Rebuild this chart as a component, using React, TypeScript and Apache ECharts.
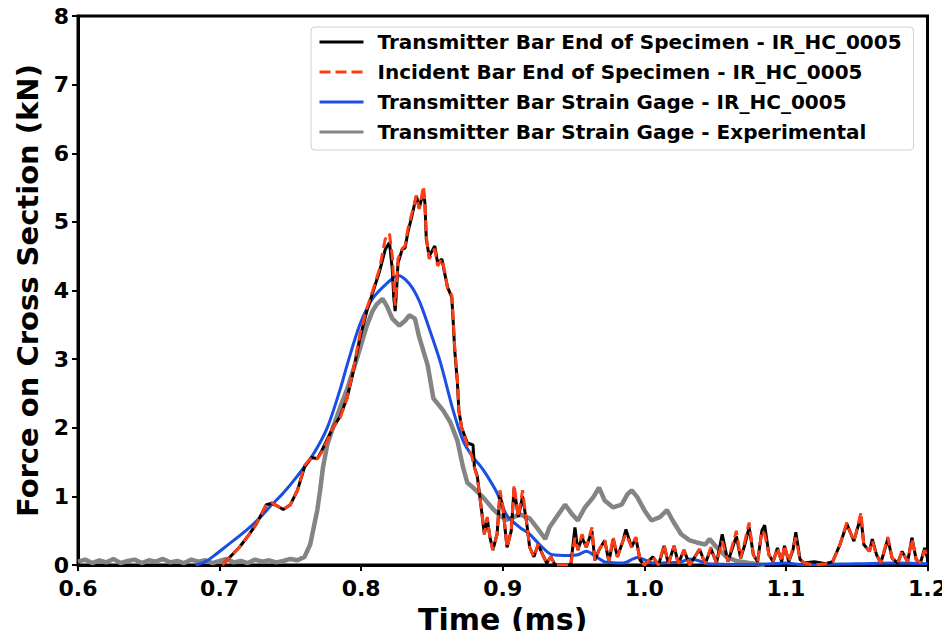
import React, { useEffect, useRef } from "react";
import * as echarts from "echarts";

const seriesNames = [
  "Transmitter Bar End of Specimen - IR_HC_0005",
  "Incident Bar End of Specimen - IR_HC_0005",
  "Transmitter Bar Strain Gage - IR_HC_0005",
  "Transmitter Bar Strain Gage - Experimental",
];

const xTicks = [0.6, 0.7, 0.8, 0.9, 1.0, 1.1, 1.2];
const yTicks = [0, 1, 2, 3, 4, 5, 6, 7, 8];

// Incident bar end (red dashed)
const redT = [
  0.702, 0.706, 0.714, 0.72, 0.726, 0.733, 0.737, 0.74, 0.745, 0.75, 0.755, 0.76, 0.765, 0.769, 0.772, 0.776, 0.78, 0.785, 0.79, 0.794,
  0.799, 0.804, 0.808, 0.813, 0.817, 0.82, 0.822, 0.823, 0.824, 0.825, 0.826, 0.829, 0.831, 0.833, 0.836, 0.839, 0.841, 0.844, 0.845, 0.846,
  0.848, 0.852, 0.854, 0.857, 0.859, 0.861, 0.864, 0.865, 0.866, 0.868, 0.869, 0.871, 0.875, 0.878, 0.88, 0.882, 0.885, 0.887, 0.889, 0.891,
  0.893, 0.896, 0.898, 0.9, 0.903, 0.906, 0.908, 0.911, 0.914, 0.917, 0.919, 0.922, 0.925, 0.928, 0.931, 0.934, 0.937, 0.948, 0.951, 0.953,
  0.956, 0.959, 0.963, 0.965, 0.968, 0.972, 0.975, 0.978, 0.981, 0.985, 0.987, 0.991, 0.994, 0.997, 1.0, 1.006, 1.01, 1.014, 1.017, 1.021,
  1.024, 1.028, 1.032, 1.039, 1.043, 1.047, 1.051, 1.055, 1.059, 1.065, 1.068, 1.071, 1.074, 1.077, 1.08, 1.083, 1.085, 1.088, 1.091, 1.094,
  1.097, 1.099, 1.102, 1.105, 1.107, 1.11, 1.113, 1.12, 1.128, 1.133, 1.138, 1.143, 1.146, 1.148, 1.15, 1.153, 1.155, 1.159, 1.161, 1.164,
  1.167, 1.172, 1.175, 1.179, 1.182, 1.186, 1.189, 1.192, 1.195, 1.198, 1.2,
];
const redF = [
  0.0, 0.09, 0.26, 0.42, 0.6, 0.88, 0.91, 0.87, 0.81, 0.88, 1.09, 1.45, 1.57, 1.55, 1.64, 1.81, 2.0, 2.14, 2.43, 2.8,
  3.35, 3.74, 3.99, 4.32, 4.75, 4.83, 4.5, 4.1, 3.78, 4.03, 4.46, 4.61, 4.65, 4.9, 5.14, 5.38, 5.19, 5.52, 5.29, 4.8,
  4.46, 4.61, 4.36, 4.46, 4.28, 4.03, 3.93, 3.59, 3.2, 2.7, 2.25, 2.0, 1.75, 1.6, 1.42, 1.28, 0.8, 0.45, 0.7, 0.4,
  0.22, 0.45, 1.09, 0.88, 0.26, 0.5, 1.17, 0.7, 1.09, 0.6, 0.26, 0.12, 0.3, 0.16, 0.03, 0.12, 0.0, 0.0, 0.4, 0.22,
  0.45, 0.26, 0.55, 0.07, 0.22, 0.36, 0.05, 0.41, 0.12, 0.36, 0.45, 0.26, 0.41, 0.07, 0.0, 0.12, 0.0, 0.3, 0.02, 0.28,
  0.02, 0.22, 0.0, 0.23, 0.02, 0.26, 0.03, 0.35, 0.05, 0.5, 0.1, 0.35, 0.62, 0.15, 0.05, 0.5, 0.45, 0.15, 0.05, 0.25,
  0.05, 0.29, 0.05, 0.25, 0.4, 0.08, 0.03, 0.0, 0.02, 0.05, 0.29, 0.62, 0.45, 0.35, 0.5, 0.77, 0.3, 0.2, 0.35, 0.15,
  0.03, 0.41, 0.1, 0.03, 0.2, 0.05, 0.38, 0.08, 0.03, 0.22, 0.1,
];

// Transmitter bar end (black solid)
const blackT = [
  0.702, 0.706, 0.714, 0.72, 0.726, 0.733, 0.737, 0.74, 0.745, 0.75, 0.755, 0.76, 0.765, 0.769, 0.772, 0.776, 0.78, 0.785, 0.79, 0.794,
  0.799, 0.804, 0.808, 0.813, 0.817, 0.82, 0.822, 0.823, 0.824, 0.825, 0.826, 0.829, 0.831, 0.833, 0.836, 0.839, 0.841, 0.844, 0.845, 0.846,
  0.848, 0.852, 0.854, 0.857, 0.859, 0.861, 0.864, 0.865, 0.866, 0.868, 0.869, 0.871, 0.875, 0.879, 0.88, 0.882, 0.885, 0.887, 0.889, 0.891,
  0.893, 0.896, 0.898, 0.9, 0.903, 0.906, 0.908, 0.911, 0.914, 0.917, 0.919, 0.922, 0.925, 0.928, 0.931, 0.934, 0.937, 0.948, 0.951, 0.953,
  0.956, 0.959, 0.963, 0.965, 0.968, 0.972, 0.975, 0.978, 0.981, 0.985, 0.987, 0.991, 0.994, 0.997, 1.0, 1.006, 1.01, 1.014, 1.017, 1.021,
  1.024, 1.028, 1.032, 1.039, 1.043, 1.047, 1.051, 1.055, 1.059, 1.065, 1.068, 1.071, 1.074, 1.077, 1.08, 1.083, 1.085, 1.088, 1.091, 1.094,
  1.097, 1.099, 1.102, 1.105, 1.107, 1.11, 1.113, 1.12, 1.128, 1.133, 1.138, 1.143, 1.146, 1.148, 1.15, 1.153, 1.155, 1.159, 1.161, 1.164,
  1.167, 1.172, 1.175, 1.179, 1.182, 1.186, 1.189, 1.192, 1.195, 1.198, 1.2,
];
const blackF = [
  0.0, 0.09, 0.26, 0.42, 0.6, 0.88, 0.9, 0.87, 0.81, 0.88, 1.09, 1.43, 1.57, 1.55, 1.66, 1.83, 2.0, 2.16, 2.43, 2.78,
  3.3, 3.7, 3.96, 4.28, 4.6, 4.7, 4.3, 3.9, 3.7, 4.0, 4.4, 4.6, 4.62, 4.85, 5.1, 5.38, 5.2, 5.45, 5.28, 4.75,
  4.5, 4.65, 4.4, 4.46, 4.25, 4.05, 3.9, 3.55, 3.15, 2.65, 2.25, 2.0, 1.78, 1.75, 1.42, 1.3, 0.8, 0.45, 0.68, 0.4,
  0.22, 0.45, 1.02, 0.85, 0.26, 0.5, 1.12, 0.7, 1.0, 0.6, 0.26, 0.12, 0.3, 0.16, 0.03, 0.12, 0.0, 0.0, 0.55, 0.22,
  0.4, 0.26, 0.5, 0.07, 0.22, 0.36, 0.05, 0.38, 0.12, 0.36, 0.52, 0.26, 0.4, 0.07, 0.0, 0.12, 0.0, 0.28, 0.02, 0.28,
  0.02, 0.22, 0.0, 0.23, 0.02, 0.24, 0.03, 0.45, 0.05, 0.42, 0.1, 0.3, 0.55, 0.15, 0.05, 0.5, 0.58, 0.15, 0.05, 0.25,
  0.05, 0.28, 0.05, 0.22, 0.48, 0.08, 0.03, 0.05, 0.02, 0.05, 0.29, 0.6, 0.45, 0.35, 0.5, 0.7, 0.3, 0.2, 0.38, 0.15,
  0.03, 0.38, 0.1, 0.03, 0.2, 0.05, 0.4, 0.08, 0.03, 0.25, 0.1,
];

// Transmitter bar strain gage model (blue)
const blueT = [
  0.683, 0.69, 0.695, 0.705, 0.719, 0.728, 0.736, 0.745, 0.755, 0.766, 0.776, 0.785, 0.79, 0.799, 0.808, 0.818, 0.826, 0.834, 0.841, 0.848,
  0.856, 0.865, 0.872, 0.879, 0.884, 0.889, 0.896, 0.903, 0.912, 0.919, 0.926, 0.935, 0.947, 0.953, 0.959, 0.966, 0.973, 0.985, 0.992, 0.995,
  1.002, 1.006, 1.025, 1.032, 1.039, 1.044, 1.08, 1.1, 1.11, 1.15, 1.18, 1.2,
];
const blueF = [
  0.0, 0.05, 0.12, 0.28, 0.51, 0.68, 0.86, 1.05, 1.3, 1.61, 2.0, 2.55, 2.91, 3.5, 3.88, 4.1, 4.22, 4.1, 3.85, 3.45,
  2.95, 2.25, 1.81, 1.57, 1.45, 1.3, 1.05, 0.72, 0.55, 0.45, 0.3, 0.15, 0.14, 0.15, 0.2, 0.12, 0.04, 0.03, 0.09, 0.11,
  0.06, 0.03, 0.04, 0.09, 0.06, 0.02, 0.01, 0.03, 0.01, 0.02, 0.03, 0.02,
];

// Transmitter bar strain gage experimental (gray)
const grayT = [
  0.6, 0.605, 0.61, 0.615, 0.62, 0.625, 0.63, 0.635, 0.64, 0.645, 0.65, 0.655, 0.66, 0.665, 0.67, 0.675, 0.68, 0.685, 0.69, 0.695,
  0.7, 0.705, 0.71, 0.715, 0.72, 0.725, 0.73, 0.735, 0.74, 0.745, 0.75, 0.755, 0.76, 0.764, 0.766, 0.769, 0.771, 0.773, 0.776, 0.78,
  0.785, 0.79, 0.797, 0.804, 0.808, 0.811, 0.815, 0.818, 0.822, 0.827, 0.831, 0.834, 0.838, 0.841, 0.847, 0.851, 0.858, 0.863, 0.868, 0.872,
  0.875, 0.879, 0.886, 0.893, 0.898, 0.903, 0.908, 0.912, 0.919, 0.924, 0.93, 0.933, 0.938, 0.944, 0.949, 0.953, 0.958, 0.964, 0.968, 0.972,
  0.978, 0.984, 0.988, 0.991, 0.995, 1.0, 1.005, 1.011, 1.016, 1.02, 1.026, 1.032, 1.037, 1.043, 1.046, 1.051, 1.058, 1.065, 1.074, 1.085,
];
const grayF = [
  0.05, 0.08, 0.03, 0.07, 0.04, 0.09, 0.03, 0.06, 0.08, 0.03, 0.07, 0.05, 0.09, 0.04, 0.06, 0.03, 0.08, 0.05, 0.07, 0.03,
  0.06, 0.09, 0.04, 0.06, 0.03, 0.08, 0.05, 0.07, 0.04, 0.06, 0.09, 0.07, 0.12, 0.3, 0.5, 0.8, 1.09, 1.42, 1.75, 2.0,
  2.29, 2.56, 3.01, 3.49, 3.7, 3.8, 3.88, 3.78, 3.59, 3.49, 3.56, 3.64, 3.59, 3.32, 2.91, 2.43, 2.25, 2.08, 1.81, 1.42,
  1.2, 1.13, 0.99, 0.82, 0.72, 0.66, 0.7, 0.74, 0.68, 0.55, 0.38, 0.55, 0.7, 0.88, 0.74, 0.65, 0.84, 0.99, 1.13, 0.94,
  0.84, 0.88, 1.03, 1.09, 0.99, 0.8, 0.65, 0.7, 0.8, 0.65, 0.45, 0.36, 0.33, 0.3, 0.38, 0.26, 0.12, 0.06, 0.03, 0.0,
];

const zip = (t: number[], f: number[]) => t.map((x, i) => [x, f[i]]);

const FONT = "DejaVu Sans";

export default function App() {
  const ref = useRef<HTMLDivElement>(null);
  useEffect(() => {
    if (!ref.current) return;
    const chart = echarts.init(ref.current, undefined, { renderer: "svg" });
    chart.setOption({
      animation: false,
      backgroundColor: "#ffffff",
      grid: {
        left: 78,
        right: 22,
        top: 16,
        bottom: 71,
        show: true,
        borderColor: "#000",
        borderWidth: 3,
        backgroundColor: "transparent",
      },
      legend: {
        orient: "vertical",
        left: 311,
        top: 27,
        padding: [5, 12, 8, 7],
        itemGap: 10,
        itemWidth: 44,
        itemHeight: 14,
        itemStyle: { opacity: 0 },
        lineStyle: { width: 3 },
        backgroundColor: "#fff",
        borderColor: "#d0d0d0",
        borderWidth: 1,
        borderRadius: 4,
        textStyle: {
          fontFamily: FONT,
          fontWeight: "bold",
          fontSize: 20,
          color: "#000",
          padding: [0, 0, 0, 9],
        },
        data: seriesNames.map((n) => ({ name: n })),
        z: 10,
      },
      xAxis: {
        type: "value",
        min: 0.6,
        max: 1.2,
        interval: 0.1,
        name: "Time (ms)",
        nameLocation: "middle",
        nameGap: 38,
        nameTextStyle: { fontFamily: FONT, fontWeight: "bold", fontSize: 30, color: "#000" },
        axisLine: { show: true, onZero: false, lineStyle: { color: "#000", width: 3 } },
        axisTick: { show: true, length: 6, lineStyle: { color: "#000", width: 2 } },
        axisLabel: {
          fontFamily: FONT,
          fontWeight: "bold",
          fontSize: 22,
          color: "#000",
          margin: 12,
          formatter: (v: number) => {
            const r = Math.round(v * 10) / 10;
            return xTicks.indexOf(r) >= 0 ? r.toFixed(1) : "";
          },
        },
        splitLine: { show: false },
      },
      yAxis: {
        type: "value",
        min: 0,
        max: 8,
        interval: 1,
        name: "Force on Cross Section (kN)",
        nameLocation: "middle",
        nameGap: 33,
        nameTextStyle: { fontFamily: FONT, fontWeight: "bold", fontSize: 29, color: "#000" },
        axisLine: { show: true, onZero: false, lineStyle: { color: "#000", width: 3 } },
        axisTick: { show: true, length: 6, lineStyle: { color: "#000", width: 2 } },
        axisLabel: {
          fontFamily: FONT,
          fontWeight: "bold",
          fontSize: 22,
          color: "#000",
          margin: 9,
          formatter: (v: number) => (yTicks.indexOf(Math.round(v)) >= 0 ? String(Math.round(v)) : ""),
        },
        splitLine: { show: false },
      },
      series: [
        {
          name: seriesNames[0],
          type: "line",
          data: zip(blackT, blackF),
          showSymbol: false,
          symbol: "none",
          z: 3,
          lineStyle: { color: "#000000", width: 3 },
          itemStyle: { color: "#000000" },
        },
        {
          name: seriesNames[1],
          type: "line",
          data: zip(redT, redF),
          showSymbol: false,
          symbol: "none",
          z: 4,
          lineStyle: { color: "#ff3d14", width: 3, type: [11, 5] },
          itemStyle: { color: "#ff3d14" },
        },
        {
          name: seriesNames[2],
          type: "line",
          data: zip(blueT, blueF),
          showSymbol: false,
          symbol: "none",
          smooth: 0.3,
          z: 2,
          lineStyle: { color: "#1a4fe3", width: 3 },
          itemStyle: { color: "#1a4fe3" },
        },
        {
          name: seriesNames[3],
          type: "line",
          data: zip(grayT, grayF),
          showSymbol: false,
          symbol: "none",
          z: 1,
          lineStyle: { color: "#848484", width: 4.5 },
          itemStyle: { color: "#848484" },
        },
      ],
    });
    return () => chart.dispose();
  }, []);
  return <div ref={ref} style={{ width: 950, height: 639, margin: -8 }} />;
}
